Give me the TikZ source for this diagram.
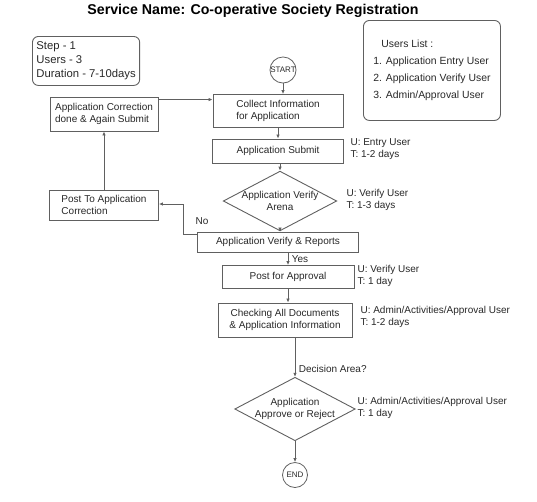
\documentclass[tikz,border=0pt]{standalone}
\usepackage{fontspec}
\setmainfont{Liberation Sans}
\usepackage{tikz}
\usetikzlibrary{%
        arrows.meta,
        shapes.geometric
    }
\definecolor{linegray}{RGB}{96, 96, 96}
\definecolor{textgray}{RGB}{40, 40, 40}
\tikzset{%
    procbox/.style={draw=linegray, line width=0.9pt, fill=white,
        align=center, inner sep=2pt, text=textgray},
    infobox/.style={draw=linegray, line width=0.9pt, rounded corners=6pt,
        align=left, text=textgray},
    decision/.style={diamond, draw=linegray, line width=0.9pt, align=center,
        inner sep=0pt, text=textgray},
    terminal/.style={circle, draw=linegray, line width=0.8pt,
        minimum size=25pt, inner sep=0pt, text=textgray,
        font=\fontsize{8}{9}\selectfont},
    flow/.style={draw=linegray, line width=0.9pt,
        -{Latex[length=4pt, width=3.5pt]}},
    note/.style={anchor=west, align=left, text=textgray}
}

\begin{document}
\begin{tikzpicture}[x=1pt, y=-1pt, font=\fontsize{10}{12}\selectfont]

    \useasboundingbox (0, 0) rectangle (537, 501);

    \node[font=\fontsize{14.2}{16}\selectfont\bfseries] (title) at (253, 11)
        {Service Name: Co-operative Society Registration};

    % info boxes
    \node[infobox, anchor=north west, minimum width=105pt, minimum height=49pt,
        inner sep=4pt, font=\fontsize{11.3}{14}\selectfont] (steps) at (32, 36) {%
        Step - 1\\
        Users - 3\\
        Duration - 7-10days
    };
    \node[infobox, anchor=north west, minimum width=137pt, minimum height=100pt,
        inner sep=5pt, font=\fontsize{10.4}{17}\selectfont] (users) at (363, 20) {%
        \hspace{8pt}Users List :\\
        1. Application Entry User\\
        2. Application Verify User\\
        3. Admin/Approval User
    };

    % main column
    \node[terminal] (start) at (283, 70) {START};
    \node[procbox, align=left, minimum width=130pt, minimum height=33pt]
        (collect) at (278, 111) {Collect Information\\for Application};
    \node[procbox, minimum width=131pt, minimum height=24pt]
        (submit) at (278, 151) {Application Submit};
    \node[decision, minimum width=109pt, minimum height=58pt, aspect=1.9]
        (verifyd) at (280, 201) {Application Verify\\Arena};
    \node[procbox, minimum width=161pt, minimum height=20pt, inner sep=1pt]
        (reports) at (278, 242) {Application Verify \& Reports};
    \node[procbox, minimum width=132pt, minimum height=23pt]
        (approval) at (288, 277) {Post for Approval};
    \node[procbox, minimum width=134pt, minimum height=34pt]
        (checking) at (285, 320) {Checking All Documents\\\& Application Information};
    \node[decision, minimum width=114pt, minimum height=60pt, aspect=1.9]
        (decide) at (295, 409) {Application\\Approve or Reject};
    \node[terminal] (end) at (295, 475) {END};

    % correction loop
    \node[procbox, align=left, minimum width=109pt, minimum height=30pt]
        (postcorr) at (104, 205) {Post To Application\\Correction};
    \node[procbox, align=left, minimum width=108pt, minimum height=34pt]
        (corrdone) at (104, 114) {Application Correction\\done \& Again Submit};
    \coordinate (nobend) at (183, 204);

    % user / time notes
    \node[note] (submitnote) at (347, 149) {U: Entry User\\T: 1-2 days};
    \node[note] (verifynote) at (343, 200) {U: Verify User\\T: 1-3 days};
    \node[note] (approvalnote) at (354, 276) {U: Verify User\\T: 1 day};
    \node[note] (checkingnote) at (357, 317)
        {U: Admin/Activities/Approval User\\T: 1-2 days};
    \node[note] (decidenote) at (354, 408)
        {U: Admin/Activities/Approval User\\T: 1 day};

    % arrows
    \draw[flow] (start) -- (start |- collect.north);
    \draw[flow] (collect.south) -- (submit.north);
    \draw[flow] (submit.south -| verifyd.north) -- (verifyd.north);
    \draw[flow] (verifyd.south) -- (verifyd.south |- reports.north);
    \draw[flow] (reports.south -| approval.north) -- (approval.north)
        node[midway, right, text=textgray] {Yes};
    \draw[flow] (approval.south) -- (approval.south |- checking.north);
    \draw[flow] (checking.south -| decide.north) -- (decide.north)
        node[pos=0.8, right, text=textgray] {Decision Area?};
    \draw[flow] (decide.south) -- (end.north);

    \draw[flow] ([yshift=-3pt] reports.north west) -| (nobend)
        -- (nobend -| postcorr.east);
    \node[text=textgray] (no) at (202, 221) {No};
    \draw[flow] (postcorr.north) -- (corrdone.south);
    \draw[flow] ([yshift=-3pt] corrdone.north east)
        -- ([yshift=-3pt] corrdone.north east -| collect.west);

\end{tikzpicture}
\end{document}
